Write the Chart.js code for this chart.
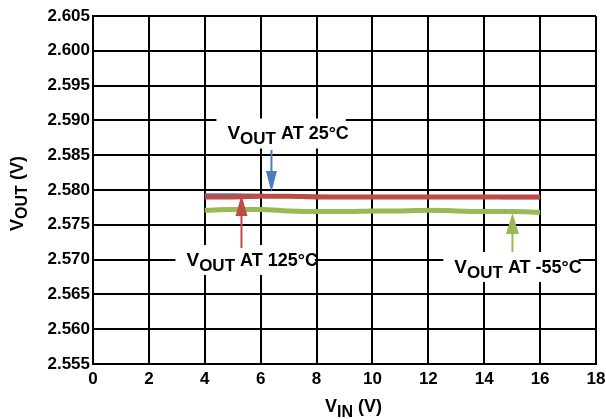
<!DOCTYPE html>
<html><head><meta charset="utf-8">
<script src="https://cdn.jsdelivr.net/npm/chart.js@4/dist/chart.umd.min.js"></script>
<style>html,body{margin:0;padding:0;background:#fff;}#wrap{width:606px;height:419px;position:relative;}</style>
</head><body><div id="wrap"><canvas id="c" width="606" height="419"></canvas></div>
<script>
const vin = [4, 5, 6, 7, 8, 9, 10, 11, 12, 13, 14, 15, 16];
const vout25 = [2.5794, 2.5794, 2.5793, 2.5792, 2.5792, 2.5791, 2.5791, 2.5790, 2.5790, 2.5789, 2.5789, 2.5788, 2.5788];
const vout125 = [2.5790, 2.5790, 2.5791, 2.5791, 2.5790, 2.5790, 2.5790, 2.5790, 2.5790, 2.5790, 2.5790, 2.5790, 2.5790];
const voutM55 = [2.5771, 2.5772, 2.5772, 2.5770, 2.5769, 2.5769, 2.5770, 2.5770, 2.5771, 2.5770, 2.5769, 2.5769, 2.5768];
const xTicks = [0, 2, 4, 6, 8, 10, 12, 14, 16, 18];
const yTicks = [2.555, 2.560, 2.565, 2.570, 2.575, 2.580, 2.585, 2.590, 2.595, 2.600, 2.605];
const seriesNames = ['25°C', '125°C', '-55°C'];

const FONT = '"Liberation Sans", Arial, sans-serif';
const BLUE = '#4A7EBB', RED = '#BE4B48', GREEN = '#98B954';

function pts(ys){ return vin.map((x,i)=>({x:x, y:ys[i]})); }

function drawParts(ctx, x, y, parts){
  let cx = x;
  for (const p of parts){
    ctx.font = 'bold ' + p.size + 'px ' + FONT;
    ctx.fillText(p.t, cx, y + (p.dy||0));
    cx += ctx.measureText(p.t).width;
  }
  return cx;
}
function partsWidth(ctx, parts){
  let w = 0;
  for (const p of parts){ ctx.font = 'bold ' + p.size + 'px ' + FONT; w += ctx.measureText(p.t).width; }
  return w;
}
function voutParts(name){
  return [{t:'V', size:19}, {t:'OUT', size:17, dy:5}, {t:' AT ' + name, size:18}];
}
function arrow(ctx, x, y0, y1, color, hw){
  const dir = y1 > y0 ? 1 : -1;
  const hl = 21;
  ctx.save();
  ctx.strokeStyle = color; ctx.fillStyle = color; ctx.lineWidth = 2;
  ctx.beginPath(); ctx.moveTo(x, y0); ctx.lineTo(x, y1 - dir*hl + dir*2); ctx.stroke();
  ctx.beginPath(); ctx.moveTo(x, y1); ctx.lineTo(x - hw, y1 - dir*hl); ctx.lineTo(x + hw, y1 - dir*hl); ctx.closePath(); ctx.fill();
  ctx.restore();
}

const notes = [
  {name: seriesNames[0], color: BLUE, lx: 4.81, ly: 2.58726, ax: 6.386, a0: 2.58575, a1: 2.57971, hw: 5.5},
  {name: seriesNames[1], color: RED, lx: 3.345, ly: 2.56908, ax: 5.313, a0: 2.57167, a1: 2.57928, hw: 6},
  {name: seriesNames[2], color: GREEN, lx: 12.93, ly: 2.56808, ax: 15.01, a0: 2.57109, a1: 2.57669, hw: 6.5}
];

const annot = {
  id: 'annot',
  afterDatasetsDraw(chart){
    const ctx = chart.ctx, xs = chart.scales.x, ys = chart.scales.y;
    ctx.save();
    for (const n of notes){
      const parts = voutParts(n.name);
      const tx = xs.getPixelForValue(n.lx), ty = ys.getPixelForValue(n.ly);
      const w = partsWidth(ctx, parts);
      ctx.fillStyle = '#fff';
      ctx.fillRect(tx - 11, ty - 21, w + 8, 30);
      arrow(ctx, xs.getPixelForValue(n.ax), ys.getPixelForValue(n.a0), ys.getPixelForValue(n.a1), n.color, n.hw);
      ctx.fillStyle = '#000';
      ctx.textBaseline = 'alphabetic'; ctx.textAlign = 'left';
      drawParts(ctx, tx, ty, parts);
    }
    // axis titles
    const xparts = [{t:'V', size:18}, {t:'IN', size:16, dy:5}, {t:' (V)', size:18}];
    const xw = partsWidth(ctx, xparts);
    const cxm = (chart.chartArea.left + chart.chartArea.right)/2;
    drawParts(ctx, cxm - xw/2 + 9, 411.5, xparts);
    const yparts = [{t:'V', size:18}, {t:'OUT', size:16, dy:4}, {t:' (V)', size:18}];
    const yw = partsWidth(ctx, yparts);
    ctx.save();
    ctx.translate(23, 193.5 + yw/2);
    ctx.rotate(-Math.PI/2);
    drawParts(ctx, 0, 0, yparts);
    ctx.restore();
    ctx.restore();
  }
};

new Chart(document.getElementById('c'), {
  type: 'line',
  data: {
    datasets: [
      {label: seriesNames[1], data: pts(vout125), borderColor: RED, borderWidth: 5, pointRadius: 0, order: 1, cubicInterpolationMode: 'monotone'},
      {label: seriesNames[0], data: pts(vout25), borderColor: BLUE, borderWidth: 2, pointRadius: 0, order: 3, cubicInterpolationMode: 'monotone'},
      {label: seriesNames[2], data: pts(voutM55), borderColor: GREEN, borderWidth: 5, pointRadius: 0, order: 2, cubicInterpolationMode: 'monotone'}
    ]
  },
  options: {
    responsive: false, animation: false, devicePixelRatio: 1,
    layout: {autoPadding: false, padding: {top: 16, right: 10, left: 0, bottom: 0}},
    plugins: {legend: {display: false}, tooltip: {enabled: false}},
    scales: {
      x: {
        type: 'linear', min: 0, max: 18,
        afterBuildTicks(s){ s.ticks = xTicks.map(v=>({value:v})); },
        afterFit(s){ s.height = 55; s.paddingLeft = 0; s.paddingRight = 0; },
        grid: {color: '#000', lineWidth: 2, drawTicks: false},
        border: {color: '#000', width: 2},
        ticks: {color: '#000', padding: 5, font: {family: FONT, size: 17, weight: 'bold'}, maxRotation: 0, autoSkip: false, callback: v => String(v)}
      },
      y: {
        type: 'linear', min: 2.555, max: 2.605,
        afterBuildTicks(s){ s.ticks = yTicks.map(v=>({value:v})); },
        afterFit(s){ s.width = 93; s.paddingTop = 0; s.paddingBottom = 0; },
        grid: {color: '#000', lineWidth: 2, drawTicks: false},
        border: {color: '#000', width: 2},
        ticks: {color: '#000', padding: 3, font: {family: FONT, size: 17, weight: 'bold'}, autoSkip: false, callback: v => Number(v).toFixed(3)}
      }
    }
  },
  plugins: [annot]
});
</script></body></html>
